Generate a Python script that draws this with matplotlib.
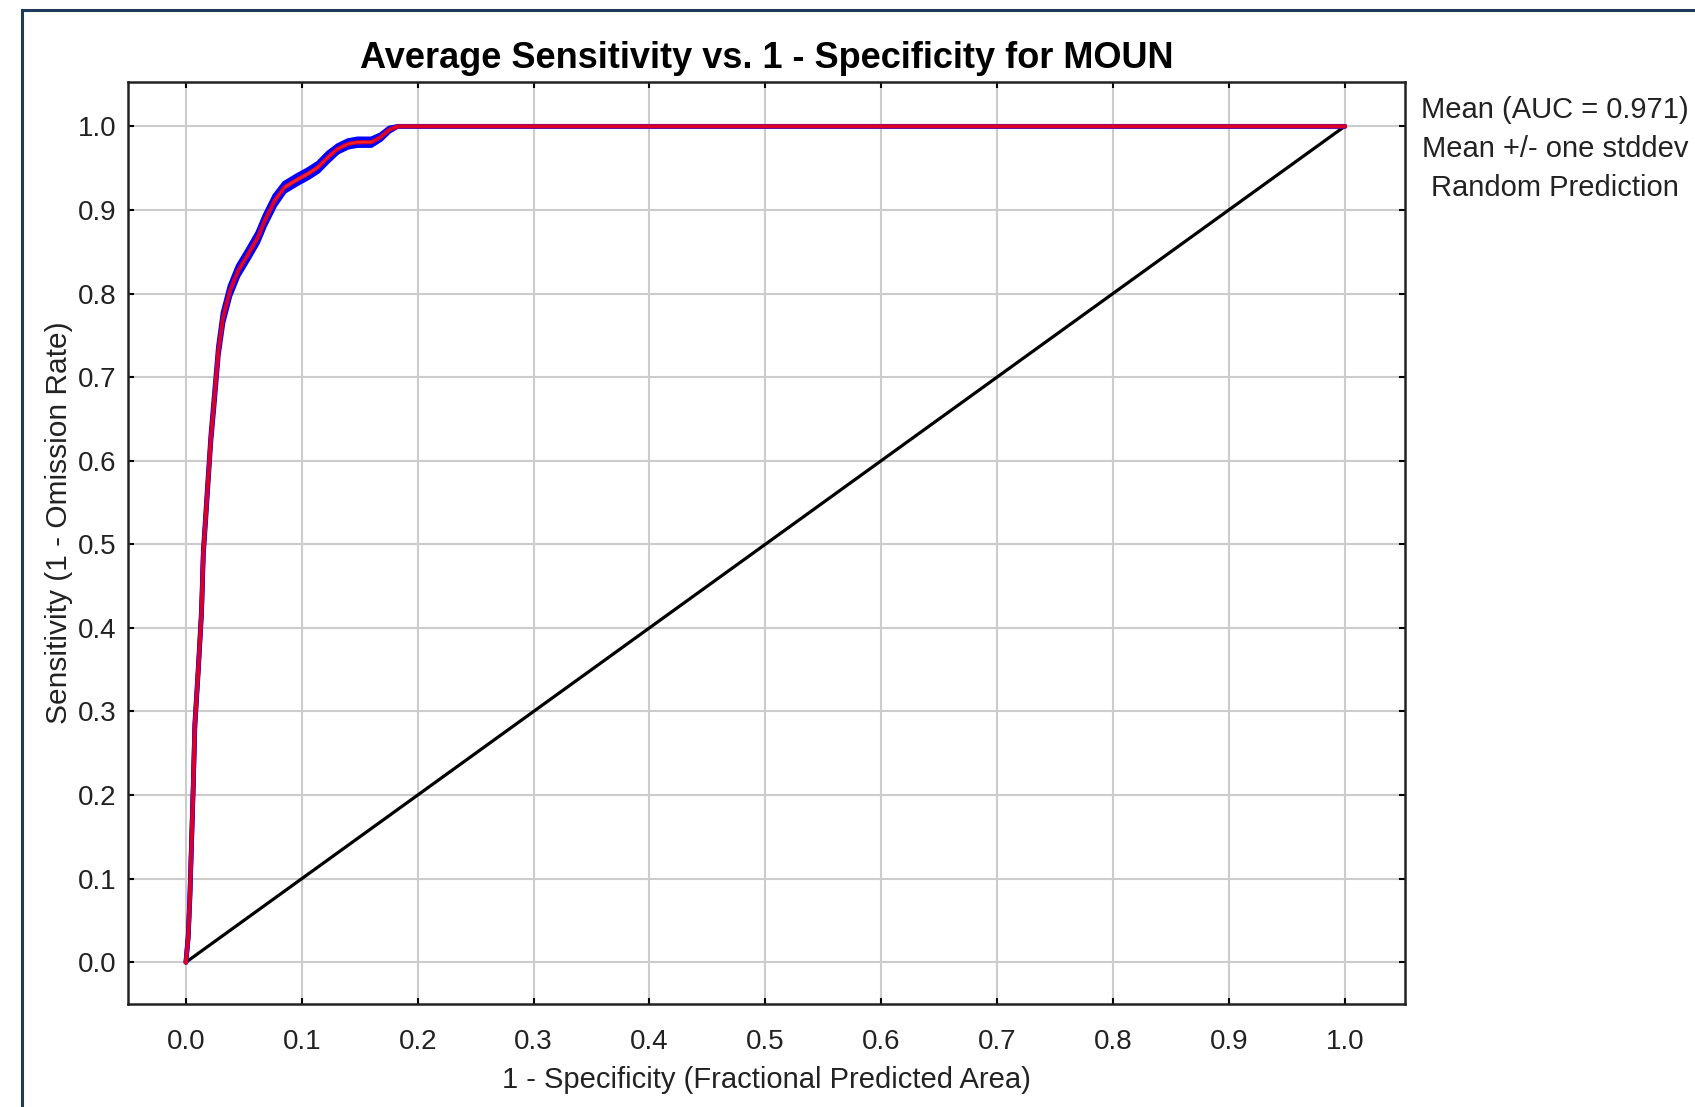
import matplotlib.pyplot as plt
from matplotlib.patches import Rectangle

plt.rcParams['font.family'] = ['Liberation Sans', 'DejaVu Sans']

# mean ROC curve
fpr = [0, 0.002, 0.0034, 0.0049, 0.0064, 0.0077, 0.0107, 0.0135, 0.015, 0.0172,
       0.0193, 0.0215, 0.0244, 0.028, 0.032, 0.038, 0.045, 0.0537, 0.062, 0.068,
       0.0766, 0.085, 0.097, 0.105, 0.114, 0.1225, 0.131, 0.140, 0.148, 0.160,
       0.168, 0.1755, 0.183, 1.0]
tpr = [0, 0.031, 0.077, 0.145, 0.214, 0.283, 0.351, 0.42, 0.489, 0.535,
       0.58, 0.626, 0.672, 0.731, 0.771, 0.803, 0.827, 0.847, 0.867, 0.887,
       0.911, 0.927, 0.937, 0.943, 0.951, 0.963, 0.973, 0.979, 0.981, 0.981,
       0.987, 0.996, 1.0, 1.0]
tpr_sd = [0, 0.002, 0.002, 0.002, 0.003, 0.003, 0.003, 0.003, 0.003, 0.004,
          0.004, 0.004, 0.005, 0.005, 0.006, 0.006, 0.006, 0.006, 0.006, 0.006,
          0.006, 0.005, 0.005, 0.005, 0.005, 0.005, 0.004, 0.004, 0.004, 0.004,
          0.003, 0.002, 0, 0]
auc = 0.971
species = "MOUN"
ticks = [0.0, 0.1, 0.2, 0.3, 0.4, 0.5, 0.6, 0.7, 0.8, 0.9, 1.0]

fig = plt.figure(figsize=(16.95, 11.07), dpi=100)
ax = fig.add_axes([0.0755, 0.093, 0.7534, 0.8329])

upper = [min(1.0, m + s) for m, s in zip(tpr, tpr_sd)]
lower = [m - s for m, s in zip(tpr, tpr_sd)]
ax.plot(fpr, upper, color='#0000ff', lw=3.4, solid_capstyle='round', zorder=3)
ax.plot(fpr, lower, color='#0000ff', lw=3.4, solid_capstyle='round', zorder=3)
ax.plot(fpr, tpr, color='#ff0000', lw=3.0, alpha=0.85, zorder=4)
ax.plot([0, 1], [0, 1], color='black', lw=2.3, zorder=2)

ax.set_xlim(-0.05, 1.052)
ax.set_ylim(-0.05, 1.053)
ax.set_xticks(ticks)
ax.set_yticks(ticks)
ax.set_xticklabels([f"{t:.1f}" for t in ticks])
ax.set_yticklabels([f"{t:.1f}" for t in ticks])
ax.grid(True, color='#cccccc', lw=1.5)
ax.set_axisbelow(True)
ax.tick_params(direction='in', top=True, right=True, length=4, width=1.5,
               labelsize=20, labelcolor='#222222')
ax.tick_params(axis='x', pad=18)
ax.tick_params(axis='y', pad=8)
for sp in ax.spines.values():
    sp.set_linewidth(1.8)
    sp.set_color('#222222')

ax.set_title(f"Average Sensitivity vs. 1 - Specificity for {species}",
             fontsize=26, fontweight='bold', pad=10)
ax.set_xlabel("1 - Specificity (Fractional Predicted Area)", fontsize=21,
              color='#222222', labelpad=8)
ax.set_ylabel("Sensitivity (1 - Omission Rate)", fontsize=21.5,
              color='#222222')
ax.yaxis.set_label_coords(-0.043, 0.522)

labels = [f"Mean (AUC = {auc:.3f})", "Mean +/- one stddev", "Random Prediction"]
for i, lab in enumerate(labels):
    fig.text(0.9174, 0.9006 - i * 0.0352, lab, ha='center', va='center',
             fontsize=21, color='#222222')

# dark frame around the panel
fig.add_artist(Rectangle((22 / 1695, -0.1), 1.2, 1.1 - 10 / 1107,
                         transform=fig.transFigure, fill=False,
                         edgecolor='#1f3a5a', lw=2.2, clip_on=False))

fig.savefig("out.png", dpi=100)
